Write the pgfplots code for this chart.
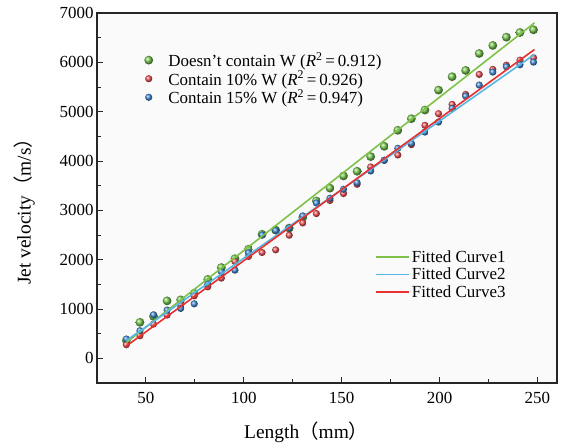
\documentclass[border=0pt]{standalone}
\usepackage{fontspec}
\setmainfont{Liberation Serif}
\newfontfamily\cjk{Noto Sans CJK SC}
\usepackage{pgfplots}
\pgfplotsset{compat=1.18}
\usetikzlibrary{calc}
\definecolor{ptG}{HTML}{74C64C}
\definecolor{ptR}{HTML}{EE5055}
\definecolor{ptB}{HTML}{4088D4}
\definecolor{lnG}{HTML}{7FC24A}
\definecolor{lnB}{HTML}{56B6E6}
\definecolor{lnR}{HTML}{E8302F}

\pgfplotsset{
  base/.style={width=460bp, height=370bp, scale only axis,
    xmin=25, xmax=260, ymin=-500, ymax=7000},
  dots/.style={only marks, mark=ball, draw opacity=0,
    mark options={ball color=#1, draw opacity=0}},
}

\begin{document}
\begin{tikzpicture}
\begin{axis}[base,
  xtick={50,100,...,250}, ytick={0,1000,...,7000},
  minor x tick num=1, minor y tick num=1,
  tick align=inside, xtick pos=left, ytick pos=left,
  major tick length=6bp, minor tick length=4bp,
  axis line style={line width=1.1bp, black!85},
  every tick/.style={black!85, line width=0.9bp},
  ticklabel style={font=\fontsize{17}{20}\selectfont},
  xticklabel style={yshift=-6bp},
  /pgf/number format/assume math mode=true,
  /pgf/number format/1000 sep={},
  xlabel={Length{\cjk（}mm{\cjk）}},
  ylabel={Jet velocity{\cjk（}m/s{\cjk）}},
  label style={font=\fontsize{19.5}{22}\selectfont},
  x label style={at={(axis description cs:0.455,-0.132)}, anchor=center},
  y label style={at={(axis description cs:-0.158,0.476)}, anchor=center},
  axis background/.style={fill=black!2},
  legend cell align=left,
  legend style={at={(0.0955,0.905)}, anchor=north west, draw=none, fill=none,
    font=\fontsize{17}{20}\selectfont, row sep=-1bp},
]
\addplot[dots=ptG, mark size=4.4bp] coordinates {
(40,360) (46.93,730) (53.87,850) (60.8,1165) (67.73,1185) (74.67,1320)
(81.6,1600) (88.53,1840) (95.47,2020) (102.4,2213) (109.33,2515) (116.27,2600)
(123.2,2640) (130.13,2860) (137.07,3190) (144,3450) (150.93,3697) (157.87,3792)
(164.8,4089) (171.73,4298) (178.67,4622) (185.6,4858) (192.53,5033) (199.47,5437)
(206.4,5709) (213.33,5836) (220.27,6180) (227.2,6342) (234.13,6510) (241.07,6605)
(248,6660)};
\addlegendentry{\hspace{13bp}Doesn’t contain W (\textit{R}\textsuperscript{2}\,=\,0.912)}
\addplot[dots=ptR, mark size=3.6bp] coordinates {
(40,276) (46.93,458) (53.87,694) (60.8,877) (67.73,1079) (74.67,1267)
(81.6,1450) (88.53,1626) (95.47,1963) (102.4,2065) (109.33,2145) (116.27,2199)
(123.2,2496) (130.13,2745) (137.07,2935) (144,3200) (150.93,3340) (157.87,3528)
(164.8,3879) (171.73,4014) (178.67,4122) (185.6,4332) (192.53,4723) (199.47,4959)
(206.4,5148) (213.33,5350) (220.27,5755) (227.2,5856) (234.13,5943) (241.07,6045)
(248,6093)};
\addlegendentry{\hspace{13bp}Contain 10\% W (\textit{R}\textsuperscript{2}\,=\,0.926)}
\addplot[dots=ptB, mark size=3.6bp] coordinates {
(40,391) (46.93,560) (53.87,883) (60.8,978) (67.73,1012) (74.67,1105)
(81.6,1504) (88.53,1753) (95.47,1787) (102.4,2140) (109.33,2500) (116.27,2590)
(123.2,2645) (130.13,2887) (137.07,3150) (144,3245) (150.93,3427) (157.87,3560)
(164.8,3798) (171.73,4014) (178.67,4257) (185.6,4358) (192.53,4587) (199.47,4790)
(206.4,5067) (213.33,5316) (220.27,5539) (227.2,5802) (234.13,5911) (241.07,5951)
(248,6004)};
\addlegendentry{\hspace{13bp}Contain 15\% W (\textit{R}\textsuperscript{2}\,=\,0.947)}
\end{axis}

\begin{axis}[base, hide axis,
  legend cell align=left,
  legend image code/.code={\draw[#1] (0bp,0bp) -- (29bp,0bp); \path (0bp,0bp) -- (33bp,0bp);},
  legend style={at={(0.598,0.368)}, anchor=north west, draw=none, fill=none,
    font=\fontsize{17}{18}\selectfont, row sep=1.2bp,
    nodes={inner ysep=1.5bp}},
]
\addplot[lnG, line width=1.6bp] coordinates {(40,320) (248.5,6800)};
\addlegendentry{Fitted Curve1}
\addplot[lnB, line width=1.6bp] coordinates {(40,360) (248.5,6160)};
\addlegendentry{Fitted Curve2}
\addplot[lnR, line width=1.6bp] coordinates {(40,250) (248.5,6260)};
\addlegendentry{Fitted Curve3}
\end{axis}
\path ($(current axis.south west)+(-97bp,-61bp)$) rectangle ($(current axis.north east)+(9bp,13bp)$);
\end{tikzpicture}
\end{document}
